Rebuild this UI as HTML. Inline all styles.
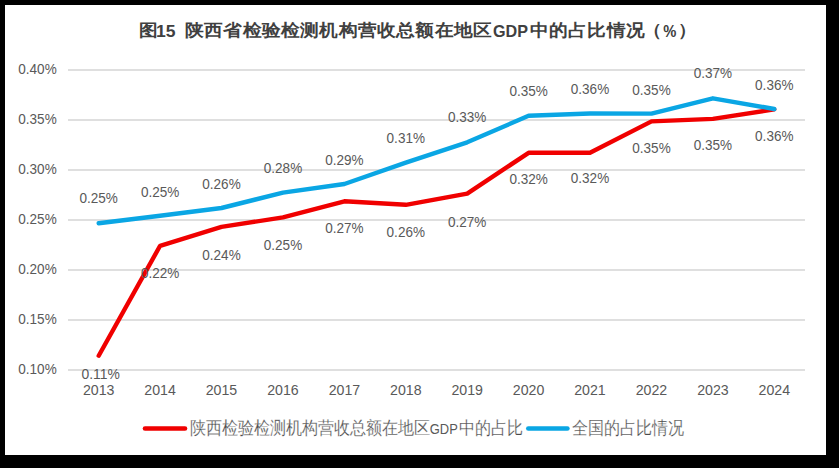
<!DOCTYPE html>
<html><head><meta charset="utf-8">
<style>
html,body{margin:0;padding:0;background:#000;width:839px;height:468px;overflow:hidden}
svg{display:block}
.t{font-family:"Liberation Sans",sans-serif;font-size:14.2px;fill:#595959}
.lg{font-family:"Liberation Sans",sans-serif;font-size:16px;fill:#4a4a4a;stroke:#fff;stroke-width:0.22px}
.lgl{font-family:"Liberation Sans",sans-serif;font-size:14px;fill:#595959}
.ti{font-family:"Liberation Sans",sans-serif;font-size:19.2px;font-weight:bold;fill:#404040}
.til{font-family:"Liberation Sans",sans-serif;font-size:16.5px;font-weight:bold;fill:#404040}
</style></head><body>
<svg width="839" height="468" viewBox="0 0 839 468">
<rect x="5" y="5" width="821" height="450" fill="#fff"/>
<rect x="68" y="69" width="737" height="2" fill="#DFDFDF"/>
<rect x="68" y="119" width="737" height="2" fill="#DFDFDF"/>
<rect x="68" y="169" width="737" height="2" fill="#DFDFDF"/>
<rect x="68" y="219" width="737" height="2" fill="#DFDFDF"/>
<rect x="68" y="269" width="737" height="2" fill="#DFDFDF"/>
<rect x="68" y="319" width="737" height="2" fill="#DFDFDF"/>
<rect x="68" y="369" width="737" height="2" fill="#DFDFDF"/>
<text x="37.5" y="73.9" text-anchor="middle" class="t" textLength="38.4" lengthAdjust="spacingAndGlyphs">0.40%</text>
<text x="37.5" y="123.9" text-anchor="middle" class="t" textLength="38.4" lengthAdjust="spacingAndGlyphs">0.35%</text>
<text x="37.5" y="173.9" text-anchor="middle" class="t" textLength="38.4" lengthAdjust="spacingAndGlyphs">0.30%</text>
<text x="37.5" y="223.9" text-anchor="middle" class="t" textLength="38.4" lengthAdjust="spacingAndGlyphs">0.25%</text>
<text x="37.5" y="273.9" text-anchor="middle" class="t" textLength="38.4" lengthAdjust="spacingAndGlyphs">0.20%</text>
<text x="37.5" y="323.9" text-anchor="middle" class="t" textLength="38.4" lengthAdjust="spacingAndGlyphs">0.15%</text>
<text x="37.5" y="373.9" text-anchor="middle" class="t" textLength="38.4" lengthAdjust="spacingAndGlyphs">0.10%</text>
<text x="98.7" y="395" text-anchor="middle" class="t" textLength="31.5" lengthAdjust="spacingAndGlyphs">2013</text>
<text x="160.1" y="395" text-anchor="middle" class="t" textLength="31.5" lengthAdjust="spacingAndGlyphs">2014</text>
<text x="221.5" y="395" text-anchor="middle" class="t" textLength="31.5" lengthAdjust="spacingAndGlyphs">2015</text>
<text x="283.0" y="395" text-anchor="middle" class="t" textLength="31.5" lengthAdjust="spacingAndGlyphs">2016</text>
<text x="344.4" y="395" text-anchor="middle" class="t" textLength="31.5" lengthAdjust="spacingAndGlyphs">2017</text>
<text x="405.8" y="395" text-anchor="middle" class="t" textLength="31.5" lengthAdjust="spacingAndGlyphs">2018</text>
<text x="467.2" y="395" text-anchor="middle" class="t" textLength="31.5" lengthAdjust="spacingAndGlyphs">2019</text>
<text x="528.6" y="395" text-anchor="middle" class="t" textLength="31.5" lengthAdjust="spacingAndGlyphs">2020</text>
<text x="590.0" y="395" text-anchor="middle" class="t" textLength="31.5" lengthAdjust="spacingAndGlyphs">2021</text>
<text x="651.5" y="395" text-anchor="middle" class="t" textLength="31.5" lengthAdjust="spacingAndGlyphs">2022</text>
<text x="712.9" y="395" text-anchor="middle" class="t" textLength="31.5" lengthAdjust="spacingAndGlyphs">2023</text>
<text x="774.3" y="395" text-anchor="middle" class="t" textLength="31.5" lengthAdjust="spacingAndGlyphs">2024</text>
<polyline points="98.7,355.7 160.1,245.8 221.5,226.9 283.0,217.4 344.4,201.3 405.8,204.8 467.2,193.6 528.6,152.8 590.0,152.8 651.5,121.4 712.9,118.9 774.3,109.4" fill="none" stroke="#F00000" stroke-width="4.4" stroke-linejoin="round" stroke-linecap="round"/>
<polyline points="98.7,223.2 160.1,215.7 221.5,208.0 283.0,192.6 344.4,184.0 405.8,162.6 467.2,142.3 528.6,115.8 590.0,113.5 651.5,113.6 712.9,98.3 774.3,109.0" fill="none" stroke="#0AA6E4" stroke-width="4.4" stroke-linejoin="round" stroke-linecap="round"/>
<text x="98.7" y="202.8" text-anchor="middle" class="t" textLength="38.4" lengthAdjust="spacingAndGlyphs">0.25%</text>
<text x="160.1" y="196.5" text-anchor="middle" class="t" textLength="38.4" lengthAdjust="spacingAndGlyphs">0.25%</text>
<text x="221.5" y="188.6" text-anchor="middle" class="t" textLength="38.4" lengthAdjust="spacingAndGlyphs">0.26%</text>
<text x="283.0" y="172.9" text-anchor="middle" class="t" textLength="38.4" lengthAdjust="spacingAndGlyphs">0.28%</text>
<text x="344.4" y="164.5" text-anchor="middle" class="t" textLength="38.4" lengthAdjust="spacingAndGlyphs">0.29%</text>
<text x="405.8" y="143.4" text-anchor="middle" class="t" textLength="38.4" lengthAdjust="spacingAndGlyphs">0.31%</text>
<text x="467.2" y="122.3" text-anchor="middle" class="t" textLength="38.4" lengthAdjust="spacingAndGlyphs">0.33%</text>
<text x="528.6" y="95.8" text-anchor="middle" class="t" textLength="38.4" lengthAdjust="spacingAndGlyphs">0.35%</text>
<text x="590.0" y="94.3" text-anchor="middle" class="t" textLength="38.4" lengthAdjust="spacingAndGlyphs">0.36%</text>
<text x="651.5" y="94.8" text-anchor="middle" class="t" textLength="38.4" lengthAdjust="spacingAndGlyphs">0.35%</text>
<text x="712.9" y="78.2" text-anchor="middle" class="t" textLength="38.4" lengthAdjust="spacingAndGlyphs">0.37%</text>
<text x="774.3" y="89.8" text-anchor="middle" class="t" textLength="38.4" lengthAdjust="spacingAndGlyphs">0.36%</text>
<text x="100.7" y="379.0" text-anchor="middle" class="t" textLength="38.4" lengthAdjust="spacingAndGlyphs">0.11%</text>
<text x="160.1" y="277.9" text-anchor="middle" class="t" textLength="38.4" lengthAdjust="spacingAndGlyphs">0.22%</text>
<text x="221.5" y="259.7" text-anchor="middle" class="t" textLength="38.4" lengthAdjust="spacingAndGlyphs">0.24%</text>
<text x="283.0" y="249.5" text-anchor="middle" class="t" textLength="38.4" lengthAdjust="spacingAndGlyphs">0.25%</text>
<text x="344.4" y="233.3" text-anchor="middle" class="t" textLength="38.4" lengthAdjust="spacingAndGlyphs">0.27%</text>
<text x="405.8" y="237.4" text-anchor="middle" class="t" textLength="38.4" lengthAdjust="spacingAndGlyphs">0.26%</text>
<text x="467.2" y="226.9" text-anchor="middle" class="t" textLength="38.4" lengthAdjust="spacingAndGlyphs">0.27%</text>
<text x="528.6" y="184.0" text-anchor="middle" class="t" textLength="38.4" lengthAdjust="spacingAndGlyphs">0.32%</text>
<text x="590.0" y="183.3" text-anchor="middle" class="t" textLength="38.4" lengthAdjust="spacingAndGlyphs">0.32%</text>
<text x="651.5" y="153.2" text-anchor="middle" class="t" textLength="38.4" lengthAdjust="spacingAndGlyphs">0.35%</text>
<text x="712.9" y="150.4" text-anchor="middle" class="t" textLength="38.4" lengthAdjust="spacingAndGlyphs">0.35%</text>
<text x="774.3" y="140.9" text-anchor="middle" class="t" textLength="38.4" lengthAdjust="spacingAndGlyphs">0.36%</text>
<line x1="145" y1="428.5" x2="185" y2="428.5" stroke="#F00000" stroke-width="4.6" stroke-linecap="round"/>
<line x1="528.3" y1="428.5" x2="567.4" y2="428.5" stroke="#0AA6E4" stroke-width="4.6" stroke-linecap="round"/>
<g transform="translate(0,433.8) scale(1,1.12)"><text x="190" y="0" class="lg">陕西检验检测机构营收总额在地区</text></g>
<text x="429.8" y="433.8" class="lgl" textLength="28" lengthAdjust="spacingAndGlyphs">GDP</text>
<g transform="translate(0,433.8) scale(1,1.12)"><text x="459" y="0" class="lg">中的占比</text></g>
<g transform="translate(0,433.8) scale(1,1.12)"><text x="572" y="0" class="lg">全国的占比情况</text></g>
<g transform="translate(0,35.6) scale(1,0.91)"><text x="139" y="0" class="ti" letter-spacing="0">图</text></g>
<text x="156" y="36.7" class="til" textLength="19.5" lengthAdjust="spacingAndGlyphs">15</text>
<g transform="translate(0,35.6) scale(1,0.91)"><text x="185" y="0" class="ti" letter-spacing="0.38">陕西省检验检测机构营收总额在地区</text></g>
<text x="493" y="36.7" class="til" textLength="35" lengthAdjust="spacingAndGlyphs">GDP</text>
<g transform="translate(0,35.6) scale(1,0.91)"><text x="529.7" y="0" class="ti" letter-spacing="0.38">中的占比情况</text></g>
<g transform="translate(0,35.6) scale(1,0.91)"><text x="643" y="0" class="ti" letter-spacing="0">（</text></g>
<text x="663.2" y="36.7" class="til" textLength="13.1" lengthAdjust="spacingAndGlyphs">%</text>
<g transform="translate(0,35.6) scale(1,0.91)"><text x="678.5" y="0" class="ti" letter-spacing="0">）</text></g>
</svg>
</body></html>
